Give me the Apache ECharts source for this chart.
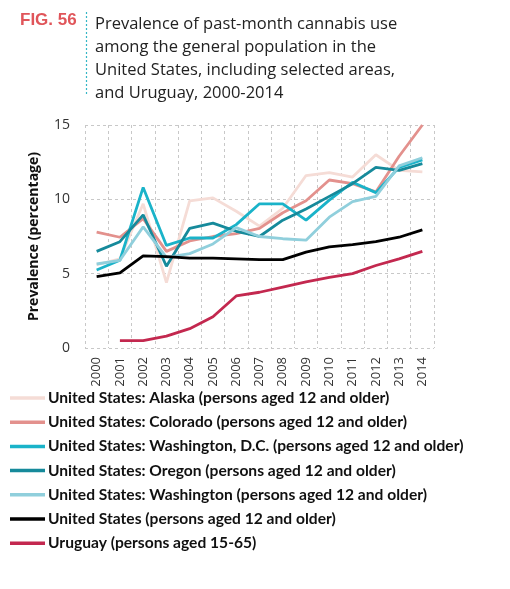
<!DOCTYPE html>
<html><head><meta charset="utf-8">
<script src="https://cdn.jsdelivr.net/npm/echarts@6/dist/echarts.min.js"></script>
<style>html,body{margin:0;padding:0;background:#fff}#c{width:510px;height:589px}</style>
</head><body><div id="c"></div>
<script>
const years = ['2000','2001','2002','2003','2004','2005','2006','2007','2008','2009','2010','2011','2012','2013','2014'];
const yTicks = [0, 5, 10, 15];
const seriesNames = [
  'United States: Alaska (persons aged 12 and older)',
  'United States: Colorado (persons aged 12 and older)',
  'United States: Washington, D.C. (persons aged 12 and older)',
  'United States: Oregon (persons aged 12 and older)',
  'United States: Washington (persons aged 12 and older)',
  'United States (persons aged 12 and older)',
  'Uruguay (persons aged 15-65)'
];
const alaska     = [5.6, 6.0, 9.7, 4.4, 9.9, 10.1, 9.2, 8.2, 9.4, 11.6, 11.8, 11.5, 13.0, 11.95, 11.85];
const colorado   = [7.8, 7.45, 8.7, 6.5, 7.2, 7.5, 7.7, 8.05, 9.1, 9.9, 11.3, 11.05, 10.5, 12.9, 15.0];
const dc         = [5.25, 5.9, 10.8, 6.9, 7.4, 7.4, 8.3, 9.7, 9.7, 8.6, 9.95, 11.15, 10.45, 12.15, 12.65];
const oregon     = [6.5, 7.15, 8.95, 5.5, 8.05, 8.4, 7.85, 7.5, 8.6, 9.35, 10.2, 11.05, 12.15, 11.95, 12.4];
const washington = [5.65, 5.9, 8.15, 6.1, 6.35, 7.0, 8.1, 7.5, 7.35, 7.25, 8.8, 9.85, 10.2, 12.25, 12.8];
const unitedStates = [4.8, 5.05, 6.2, 6.15, 6.05, 6.05, 6.0, 5.95, 5.95, 6.45, 6.8, 6.95, 7.15, 7.45, 7.95];
const uruguay    = [null, 0.5, 0.5, 0.8, 1.3, 2.1, 3.5, 3.75, 4.1, 4.45, 4.75, 5.0, 5.55, 6.0, 6.5];
const colors = ['#f5dcd6', '#e3918d', '#1ab3c9', '#168a9b', '#90cfdc', '#000000', '#c3284f'];
const dataSets = [alaska, colorado, dc, oregon, washington, unitedStates, uruguay];

const chart = echarts.init(document.getElementById('c'), null, {renderer: 'canvas'});
const titleLines = ['Prevalence of past-month cannabis use', 'among the general population in the', 'United States, including selected areas,', 'and Uruguay, 2000-2014'];
chart.setOption({
  animation: false,
  graphic: [
    {type: 'text', left: 20, top: 12, style: {text: 'FIG. 56', font: 'bold 17px "Liberation Sans", Arial', fill: '#e0555a'}},
    {type: 'line', shape: {x1: 86.5, y1: 12, x2: 86.5, y2: 96}, style: {stroke: '#35b6c6', lineWidth: 1.2, lineDash: [2, 2]}},
    {type: 'text', left: 95, top: 13, style: {text: titleLines.join('\n'), font: '16.5px "Open Sans", sans-serif', lineHeight: 23, fill: '#222'}}
  ],
  grid: {left: 85, right: 76, top: 125, bottom: 241, containLabel: false},
  xAxis: {
    type: 'category', data: years, boundaryGap: true,
    axisLine: {show: false}, axisTick: {show: false},
    axisLabel: {rotate: 90, fontSize: 13, color: '#333', margin: 9, fontFamily: '"Open Sans", sans-serif', interval: 0},
    splitLine: {show: true, interval: 0, lineStyle: {color: '#c8c8c8', type: [3, 3], width: 1}}
  },
  yAxis: {
    type: 'value', min: 0, max: 15, interval: 5,
    axisLine: {show: false}, axisTick: {show: false},
    axisLabel: {fontSize: 14, color: '#333', margin: 15, fontFamily: '"Open Sans", sans-serif', formatter: v => yTicks.includes(v) ? String(v) : ''},
    splitLine: {lineStyle: {color: '#c8c8c8', type: [3, 3], width: 1}},
    name: 'Prevalence (percentage)', nameLocation: 'middle', nameGap: 44,
    nameTextStyle: {fontSize: 14, fontWeight: 'bold', color: '#111', fontFamily: '"Open Sans", sans-serif'}
  },
  legend: {
    orient: 'vertical', left: 5, top: 384, itemGap: 6.2, itemWidth: 35, itemHeight: 3.5,
    icon: 'rect', itemStyle: {borderWidth: 0},
    textStyle: {fontSize: 15.6, fontWeight: 'bold', color: '#111', fontFamily: 'Lato, sans-serif', lineHeight: 18, padding: [0, 0, 0, -2]},
    data: seriesNames
  },
  series: dataSets.map((d, i) => ({
    name: seriesNames[i], type: 'line', data: d, showSymbol: false, symbol: 'none',
    lineStyle: {width: 2.8, color: colors[i]}, itemStyle: {color: colors[i]},
    connectNulls: false, z: 2 + i
  }))
});
</script></body></html>
